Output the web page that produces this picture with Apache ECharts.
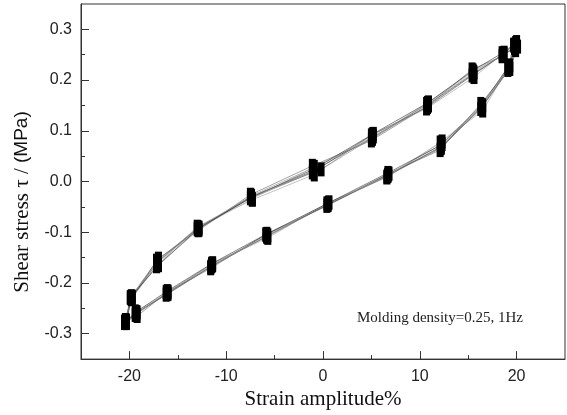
<!DOCTYPE html>
<html>
<head>
<meta charset="utf-8">
<script src="https://cdn.jsdelivr.net/npm/echarts@6/dist/echarts.min.js"></script>
<style>html,body{margin:0;padding:0;background:#fff}#c{width:567px;height:415px}</style>
</head>
<body>
<div id="c"></div>
<script>
// Strain (%) per cycle
const strain1 = [-20.3,-19.9,-17.0,-12.8,-7.5,-1.1,5.0,10.9,15.4,18.5,19.7,19.1,16.3,12.1,6.8,0.4,-5.9,-11.6,-16.0,-19.2,-20.4];
const strain2 = [-20.5,-19.7,-17.2,-13.0,-7.3,-0.9,5.2,10.7,15.6,18.7,19.9,19.3,16.5,12.3,6.6,0.6,-5.7,-11.4,-16.2,-19.4,-20.3];
const strain3 = [-20.4,-19.8,-17.1,-12.9,-7.4,-1.0,5.1,10.8,15.5,18.6,20.0,19.2,16.4,12.2,6.7,0.5,-5.8,-11.5,-16.1,-19.3,-20.5];
const strain4 = [-20.3,-19.9,-17.0,-12.9,-7.4,-1.0,5.1,10.9,15.5,18.6,19.8,19.2,16.4,12.3,6.7,0.5,-5.8,-11.5,-16.1,-19.3,-20.4];
const strain5 = [-20.5,-19.8,-17.2,-12.8,-7.5,-1.1,5.0,10.8,15.4,18.7,20.1,19.3,16.5,12.2,6.8,0.5,-5.9,-11.6,-16.0,-19.2,-20.3];
const strain6 = [-20.4,-19.7,-17.1,-13.0,-7.3,-0.9,5.2,10.7,15.6,18.6,19.7,19.1,16.3,12.1,6.6,0.4,-5.7,-11.4,-16.2,-19.4,-20.4];
const strain7 = [-20.3,-19.8,-17.0,-12.9,-7.4,-1.0,5.1,10.8,15.5,18.5,19.9,19.2,16.4,12.2,6.7,0.6,-5.8,-11.5,-16.1,-19.3,-20.5];
const strain8 = [-20.4,-19.9,-17.1,-12.9,-7.4,-0.2,5.1,10.8,15.5,18.6,19.8,19.2,16.4,12.2,6.7,0.5,-5.8,-11.5,-16.1,-19.3,-20.4];
// Shear stress (MPa) per cycle
const stress1 = [-0.274,-0.229,-0.152,-0.095,-0.026,0.031,0.081,0.150,0.221,0.247,0.270,0.220,0.153,0.062,0.016,-0.048,-0.104,-0.171,-0.217,-0.265,-0.276];
const stress2 = [-0.276,-0.227,-0.167,-0.089,-0.036,0.014,0.094,0.144,0.206,0.254,0.259,0.229,0.140,0.079,0.008,-0.041,-0.111,-0.161,-0.223,-0.256,-0.275];
const stress3 = [-0.275,-0.231,-0.159,-0.092,-0.030,0.021,0.087,0.152,0.212,0.250,0.275,0.224,0.146,0.069,0.012,-0.045,-0.107,-0.166,-0.220,-0.260,-0.277];
const stress4 = [-0.277,-0.228,-0.163,-0.096,-0.028,0.027,0.084,0.156,0.217,0.249,0.263,0.227,0.148,0.074,0.013,-0.044,-0.109,-0.163,-0.219,-0.262,-0.274];
const stress5 = [-0.278,-0.232,-0.156,-0.091,-0.033,0.018,0.091,0.147,0.209,0.252,0.266,0.222,0.150,0.066,0.015,-0.046,-0.105,-0.168,-0.221,-0.258,-0.278];
const stress6 = [-0.273,-0.230,-0.161,-0.094,-0.034,0.029,0.089,0.153,0.215,0.251,0.268,0.225,0.143,0.077,0.010,-0.043,-0.106,-0.165,-0.218,-0.263,-0.273];
const stress7 = [-0.279,-0.226,-0.165,-0.093,-0.031,0.024,0.093,0.155,0.219,0.253,0.273,0.228,0.151,0.072,0.017,-0.042,-0.103,-0.162,-0.216,-0.257,-0.279];
const stress8 = [-0.275,-0.229,-0.158,-0.090,-0.029,0.024,0.086,0.149,0.211,0.250,0.265,0.223,0.145,0.068,0.011,-0.046,-0.108,-0.167,-0.222,-0.259,-0.276];

const xMajorTicks = [-20,-10,0,10,20];
const xMinorTicks = [-15,-5,5,15];
const yMajorTicks = [-0.3,-0.2,-0.1,0.0,0.1,0.2,0.3];
const yMinorTicks = [-0.25,-0.15,-0.05,0.05,0.15,0.25];

const strains = [strain1,strain2,strain3,strain4,strain5,strain6,strain7,strain8];
const stresses = [stress1,stress2,stress3,stress4,stress5,stress6,stress7,stress8];
const lineColors = ['#666','#999','#444','#888','#555','#aaa','#333','#777'];

const series = strains.map((xs, i) => ({
  type: 'line',
  xAxisIndex: 0, yAxisIndex: 0,
  data: xs.map((x, j) => [x, stresses[i][j]]),
  symbol: 'rect',
  symbolSize: [7, 14],
  showSymbol: true,
  itemStyle: { color: '#000' },
  lineStyle: { color: lineColors[i], width: 0.6 },
  emphasis: { disabled: true },
  silent: true
}));

const sans = "'Liberation Sans', Arial, sans-serif";
const serif = "'Liberation Serif', 'Times New Roman', serif";

const chart = echarts.init(document.getElementById('c'), null, { renderer: 'canvas' });
chart.setOption({
  animation: false,
  backgroundColor: '#fff',
  grid: { left: 81, right: 2, top: 4, bottom: 54, show: true, borderColor: '#333', borderWidth: 1 },
  xAxis: [{
    type: 'value', min: -25, max: 25,
    name: 'Strain amplitude%', nameLocation: 'middle', nameGap: 27,
    nameTextStyle: { fontFamily: serif, fontSize: 21, color: '#111' },
    axisLine: { show: true, onZero: false, lineStyle: { color: '#333', width: 1 } },
    axisTick: { show: true, inside: true, length: 8, customValues: xMajorTicks, lineStyle: { color: '#333' } },
    axisLabel: { customValues: xMajorTicks, fontFamily: sans, fontSize: 16, color: '#222', margin: 9, formatter: v => String(v) },
    splitLine: { show: false }
  }, {
    type: 'value', min: -25, max: 25, position: 'bottom',
    axisLine: { show: false, onZero: false },
    axisTick: { show: true, inside: true, length: 4, customValues: xMinorTicks, lineStyle: { color: '#333' } },
    axisLabel: { show: false },
    splitLine: { show: false }
  }],
  yAxis: [{
    type: 'value', min: -0.35, max: 0.35,
    axisLine: { show: true, onZero: false, lineStyle: { color: '#333', width: 1 } },
    axisTick: { show: true, inside: true, length: 8, customValues: yMajorTicks, lineStyle: { color: '#333' } },
    axisLabel: { customValues: yMajorTicks, fontFamily: sans, fontSize: 16, color: '#222', margin: 9, formatter: v => v.toFixed(1) },
    splitLine: { show: false }
  }, {
    type: 'value', min: -0.35, max: 0.35, position: 'left',
    axisLine: { show: false, onZero: false },
    axisTick: { show: true, inside: true, length: 4, customValues: yMinorTicks, lineStyle: { color: '#333' } },
    axisLabel: { show: false },
    splitLine: { show: false }
  }],
  graphic: [{
    type: 'text', x: 22, y: 202, rotation: Math.PI / 2,
    style: {
      text: '{a|Shear stress τ / }{b|(MPa)}',
      align: 'center', verticalAlign: 'middle',
      rich: { a: { fontFamily: serif, fontSize: 21, fill: '#111' }, b: { fontFamily: sans, fontSize: 19, fill: '#111' } }
    }
  }, {
    type: 'text', left: 357, top: 311,
    style: { text: 'Molding density=0.25, 1Hz', font: "15px 'Liberation Serif', serif", fill: '#222' }
  }],
  series: series
});
</script>
</body>
</html>
